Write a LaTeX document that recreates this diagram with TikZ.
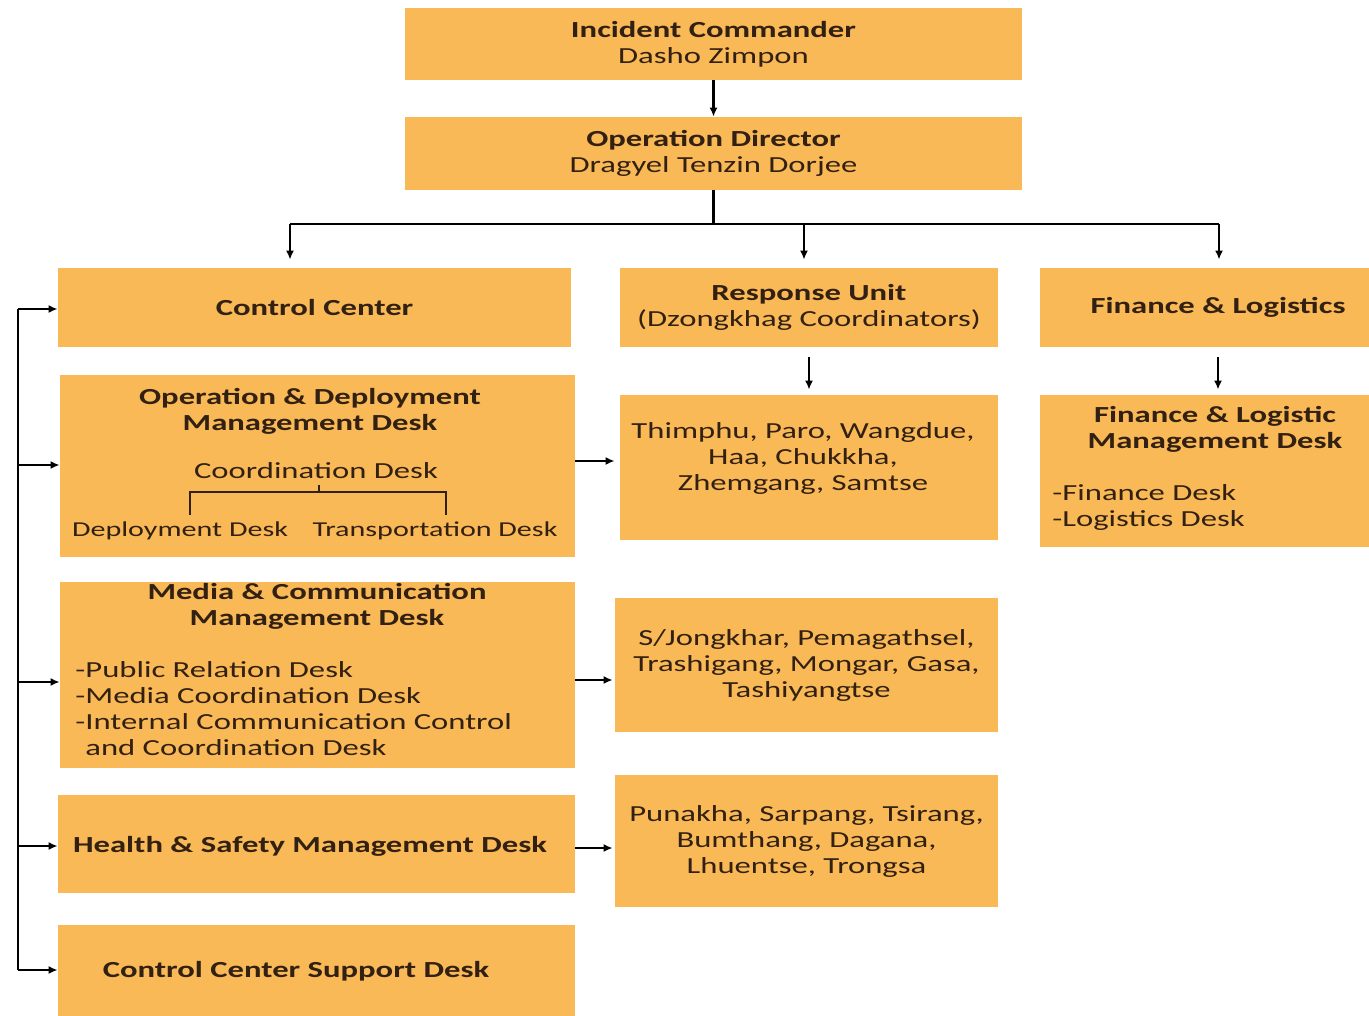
\documentclass[tikz,border=0pt]{standalone}
\usepackage{fontspec}
\setmainfont{Carlito}[FakeStretch=1.42]
\usepackage{tikz}
\usetikzlibrary{arrows.meta}

\definecolor{boxorange}{RGB}{249,185,86}
\definecolor{boxtext}{RGB}{50,32,18}

\tikzset{
  orgbox/.style={fill=boxorange, inner sep=0pt, text=boxtext, align=center},
  boxlabel/.style={text=boxtext, inner sep=0pt, align=center},
  smalllabel/.style={boxlabel, font=\fontsize{10.6}{12}\selectfont},
  arr/.style={-{Latex[length=4.5pt,width=4pt]}, line width=1.1pt},
  link/.style={line width=1.1pt},
  bracket/.style={line width=0.7pt, draw=boxtext},
}

\begin{document}
\begin{tikzpicture}[x=0.5pt, y=-0.5pt, font=\fontsize{11.5}{13}\selectfont]
  \useasboundingbox (0,0) rectangle (1369,1016);
  \clip (0,0) rectangle (1369,1016);

  % top of the chain
  \node[orgbox, minimum width=308.5pt, minimum height=36pt] (ic) at (713.5,44) {\textbf{Incident Commander}\\Dasho Zimpon};
  \node[orgbox, minimum width=308.5pt, minimum height=36.5pt] (od) at (713.5,153.5) {\textbf{Operation Director}\\Dragyel Tenzin Dorjee};

  % three branches
  \node[orgbox, minimum width=256.5pt, minimum height=39.5pt] (cc) at (314.5,307.5) {\textbf{Control Center}};
  \node[orgbox, minimum width=189pt, minimum height=39.5pt] (ru) at (809,307.5) {\textbf{Response Unit}\\(Dzongkhag Coordinators)};
  \node[orgbox, minimum width=178pt, minimum height=39.5pt] (fl) at (1218,307.5) {\textbf{Finance \& Logistics}};

  % control center desks
  \node[orgbox, minimum width=257.5pt, minimum height=91pt] (opdep) at (317.5,466) {};
  \node[boxlabel] (opdeptitle) at (310,411) {\textbf{Operation \& Deployment}\\\textbf{Management Desk}};
  \node[boxlabel] (cdesk) at (316,471) {Coordination Desk};
  \node[smalllabel] (dep) at (180,531) {Deployment Desk};
  \node[smalllabel] (trans) at (435,531) {Transportation Desk};
  \draw[bracket] (190,515) |- (446,492) -- (446,515);
  \draw[bracket] (319,492) -- (319,485);

  \node[orgbox, minimum width=257.5pt, minimum height=93pt] (media) at (317.5,675) {};
  \node[boxlabel] (mediatitle) at (317,606) {\textbf{Media \& Communication}\\\textbf{Management Desk}};
  \node[boxlabel, anchor=west, align=left] (medialist) at (75,709) {-Public Relation Desk\\-Media Coordination Desk\\-Internal Communication Control\\\phantom{-}and Coordination Desk};

  \node[orgbox, minimum width=258.5pt, minimum height=49pt] (health) at (316.5,844) {};
  \node[boxlabel] (healthtext) at (310,846) {\textbf{Health \& Safety Management Desk}};

  \node[orgbox, minimum width=258.5pt, minimum height=60pt] (support) at (316.5,985) {};
  \node[boxlabel] (supporttext) at (296,971) {\textbf{Control Center Support Desk}};

  % dzongkhag groups
  \node[orgbox, minimum width=189pt, minimum height=72.5pt] (thim) at (809,467.5) {};
  \node[boxlabel] (thimtext) at (803,458) {Thimphu, Paro, Wangdue,\\Haa, Chukkha,\\Zhemgang, Samtse};
  \node[orgbox, minimum width=191.5pt, minimum height=67pt] (sjong) at (806.5,665) {S/Jongkhar, Pemagathsel,\\Trashigang, Mongar, Gasa,\\Tashiyangtse};
  \node[orgbox, minimum width=191.5pt, minimum height=66pt] (puna) at (806.5,841) {Punakha, Sarpang, Tsirang,\\Bumthang, Dagana,\\Lhuentse, Trongsa};

  % finance desks
  \node[orgbox, minimum width=178pt, minimum height=76pt] (flmd) at (1218,471) {};
  \node[boxlabel] (flmdtitle) at (1215,429) {\textbf{Finance \& Logistic}\\\textbf{Management Desk}};
  \node[boxlabel, anchor=west, align=left] (flmdlist) at (1052,507) {-Finance Desk\\-Logistics Desk};

  % connectors
  \draw[arr] (ic.south) -- (od.north);
  \coordinate (bus) at (713.5,224);
  \coordinate (busL) at (290,224);
  \coordinate (busM) at (804,224);
  \coordinate (busR) at (1219,224);
  \draw[link] (od.south) -- (bus);
  \draw[link] (busL) -- (busR);
  \draw[arr, shorten >=4pt] (busL) -- (busL |- cc.north);
  \draw[arr, shorten >=4pt] (busM) -- (busM |- ru.north);
  \draw[arr, shorten >=4pt] (busR) -- (busR |- fl.north);

  \draw[arr, shorten <=5pt, shorten >=2.5pt] (ru.south) -- (ru.south |- thim.north);
  \draw[arr, shorten <=5pt, shorten >=2.5pt] (fl.south) -- (fl.south |- flmd.north);

  \coordinate (s1) at (18,309);
  \coordinate (s2) at (18,465);
  \coordinate (s3) at (18,682);
  \coordinate (s4) at (18,846);
  \coordinate (s5) at (18,970);
  \draw[link] (s1) -- (s5);
  \draw[arr] (s1) -- (s1 -| cc.west);
  \draw[arr] (s2) -- (s2 -| opdep.west);
  \draw[arr] (s3) -- (s3 -| media.west);
  \draw[arr] (s4) -- (s4 -| health.west);
  \draw[arr] (s5) -- (s5 -| support.west);

  \coordinate (r1) at (575,461);
  \coordinate (r2) at (575,680);
  \coordinate (r3) at (575,848);
  \draw[arr, shorten >=2.5pt] (r1) -- (r1 -| thim.west);
  \draw[arr, shorten >=1pt] (r2) -- (r2 -| sjong.west);
  \draw[arr, shorten >=1pt] (r3) -- (r3 -| puna.west);
\end{tikzpicture}
\end{document}
